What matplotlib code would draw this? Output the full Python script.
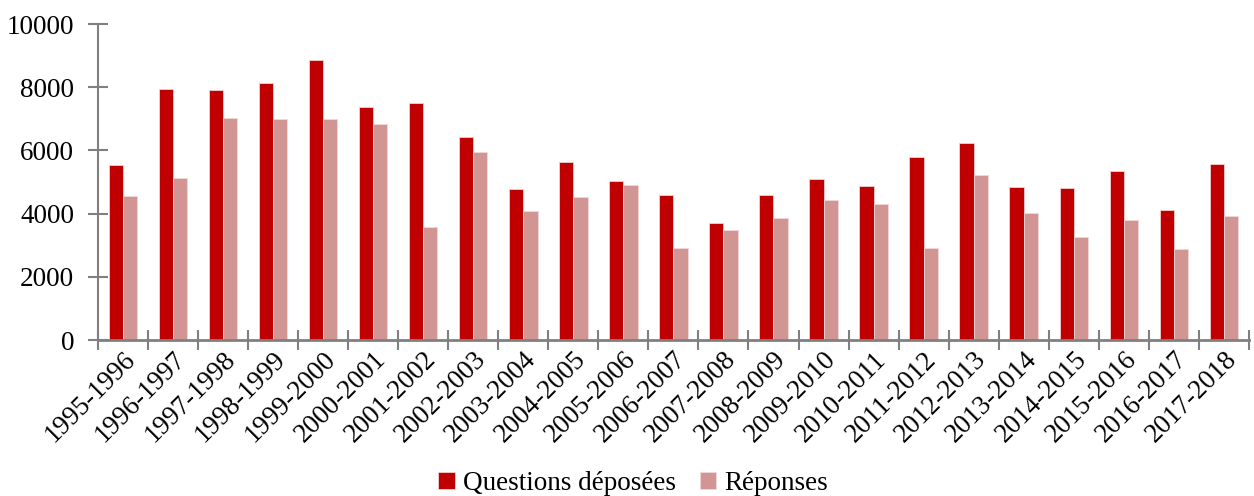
import matplotlib
matplotlib.use("Agg")
import matplotlib.pyplot as plt
import numpy as np

# Data
sessions = ["1995-1996", "1996-1997", "1997-1998", "1998-1999", "1999-2000",
            "2000-2001", "2001-2002", "2002-2003", "2003-2004", "2004-2005",
            "2005-2006", "2006-2007", "2007-2008", "2008-2009", "2009-2010",
            "2010-2011", "2011-2012", "2012-2013", "2013-2014", "2014-2015",
            "2015-2016", "2016-2017", "2017-2018"]
questions = [5550, 7945, 7910, 8135, 8870, 7365, 7490, 6425, 4780, 5620,
             5020, 4600, 3690, 4600, 5095, 4885, 5780, 6225, 4830, 4810,
             5340, 4105, 5580]
reponses = [4555, 5135, 7015, 6995, 6985, 6845, 3575, 5960, 4080, 4525,
            4905, 2900, 3470, 3860, 4420, 4315, 2910, 5220, 4020, 3270,
            3795, 2870, 3925]

plt.rcParams['font.family'] = ['Liberation Serif', 'DejaVu Serif']
fs = 19.5

fig = plt.figure(figsize=(12.54, 4.96), dpi=100)
ax = fig.add_axes([0.078, 0.3145, 0.918, 0.637])

x = np.arange(len(sessions))
w = 0.285
ax.bar(x - w / 2, questions, w, color='#C00000', edgecolor='#F2D0D0',
       linewidth=0.6, label='Questions déposées')
ax.bar(x + w / 2, reponses, w, color='#D19594', edgecolor='#F2D8D8',
       linewidth=0.6, label='Réponses')

ax.set_xlim(-0.5, len(sessions) - 0.5)
ax.set_ylim(0, 10000)
ax.set_yticks(np.arange(0, 10001, 2000))

# ticks on category boundaries, labels at centres
ax.set_xticks(np.arange(-0.5, len(sessions), 1.0))
ax.set_xticklabels([])
ax.set_xticks(x, minor=True)
ax.set_xticklabels(sessions, minor=True, rotation=45, ha='right',
                   rotation_mode='anchor', fontsize=fs)
ax.tick_params(axis='x', which='minor', length=0, pad=5)
ax.tick_params(axis='x', which='major', direction='inout', length=14,
               width=1.5, color='#808080')
ax.tick_params(axis='y', direction='inout', length=14, width=1.5,
               color='#808080', labelsize=fs, pad=10)

for side in ['top', 'right']:
    ax.spines[side].set_visible(False)
ax.spines['left'].set_color('#808080')
ax.spines['left'].set_linewidth(1.5)
ax.spines['bottom'].set_color('#808080')
ax.spines['bottom'].set_linewidth(2)

fig.legend(loc='lower center', bbox_to_anchor=(0.505, -0.05), ncol=2,
           frameon=False, fontsize=fs, handlelength=0.6, handleheight=0.6,
           handletextpad=0.3, columnspacing=0.9)

fig.savefig("out.png", dpi=100)
